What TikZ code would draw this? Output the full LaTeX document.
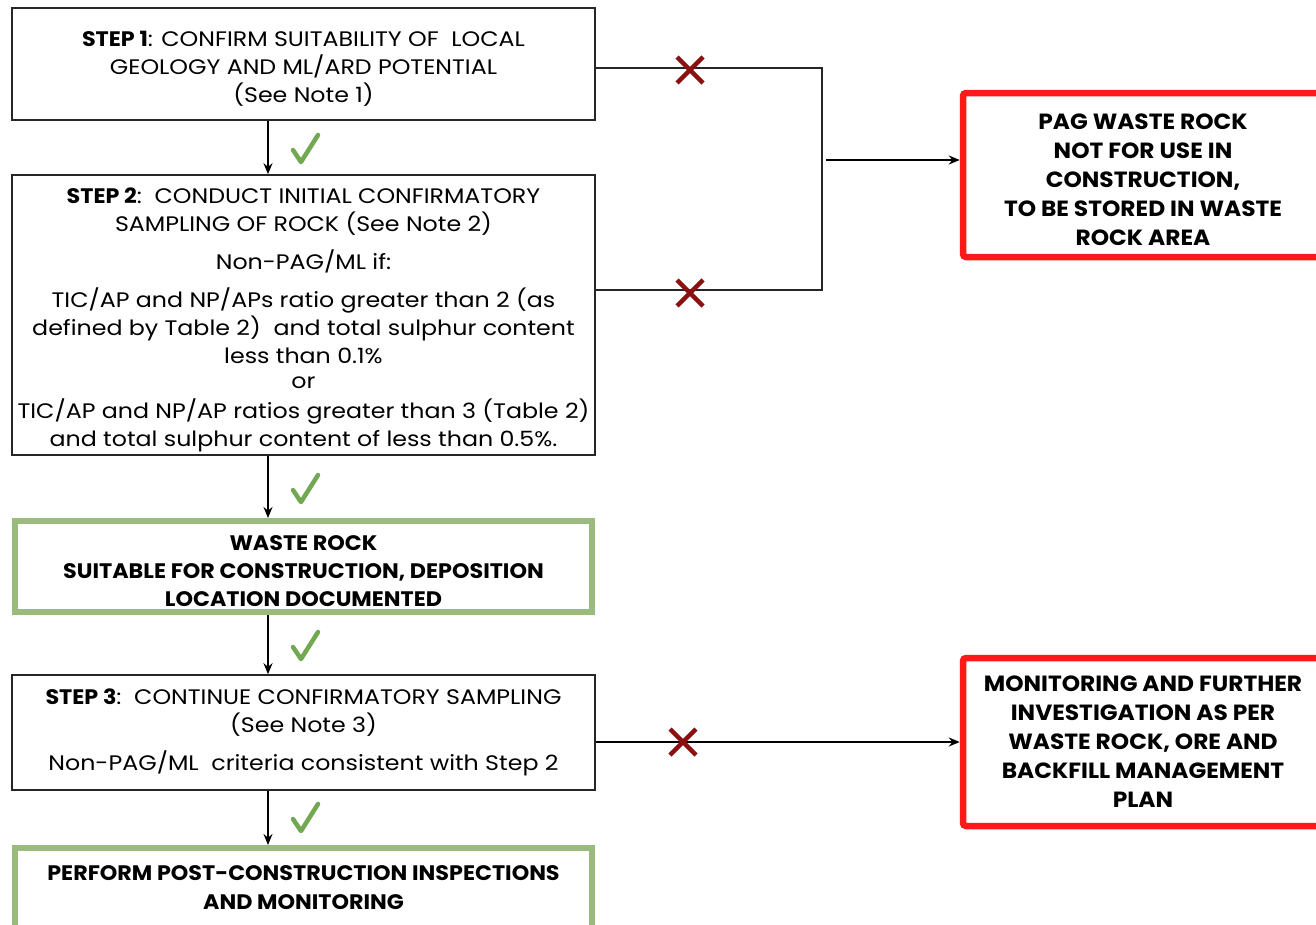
\documentclass[tikz,border=0pt]{standalone}
\usepackage{fontspec}
\setmainfont{Poppins}[FakeStretch=1.13, BoldFeatures={FakeStretch=1.06}]
\usetikzlibrary{arrows.meta}
\definecolor{gbox}{HTML}{9BBB7E}
\definecolor{rbox}{HTML}{FF1A1A}
\definecolor{chk}{HTML}{72A852}
\definecolor{xred}{HTML}{8B1010}
\tikzset{
  plainbox/.style={draw=black!85, line width=1.6pt, minimum width=583pt, align=center, inner sep=0pt, font=\fontsize{21}{28}\selectfont},
  greenbox/.style={draw=gbox, line width=6pt, minimum width=577pt, align=center, inner sep=0pt, font=\bfseries\fontsize{21}{28}\selectfont},
  redbox/.style={draw=rbox, line width=6.5pt, rounded corners=3pt, align=center, inner sep=0pt, font=\bfseries\fontsize{22}{29}\selectfont},
  conn/.style={line width=1.3pt, draw=black!85},
  flow/.style={line width=2pt, -{Stealth[length=11pt,width=9pt]}},
  chkmark/.pic={\draw[draw=chk, line width=4.5pt, line cap=round, line join=round] (-13,1) -- (-5,13) -- (12,-14);},
  xmark/.style={draw=xred, line width=4.5pt}
}
\begin{document}
\begin{tikzpicture}[x=1pt,y=-1pt]
\useasboundingbox (0,0) rectangle (1316,924);
\clip (0,0) rectangle (1316,924);
% main column
\node[plainbox, minimum height=112pt] (s1) at (303.5,64) {\rule{0pt}{24pt}\textbf{STEP 1}: CONFIRM SUITABILITY OF\ \ LOCAL\\GEOLOGY AND ML/ARD POTENTIAL\\(See Note 1)};
\node[plainbox, minimum height=280pt] (s2) at (303.5,315) {\rule{0pt}{25pt}\textbf{STEP 2}:\ \ CONDUCT INITIAL CONFIRMATORY\\SAMPLING OF ROCK (See Note 2)\\[10pt]Non-PAG/ML if:\\[10pt]TIC/AP and NP/APs ratio greater than 2 (as\\defined by Table 2)\ \ and total sulphur content\\less than 0.1\%\\[-3pt]or\\[2pt]TIC/AP and NP/AP ratios greater than 3 (Table 2)\\and total sulphur content of less than 0.5\%.};
\node[greenbox, minimum height=91pt] (wr) at (303.5,566.5) {\rule{0pt}{24pt}WASTE ROCK\\SUITABLE FOR CONSTRUCTION, DEPOSITION\\LOCATION DOCUMENTED};
\node[plainbox, minimum height=115pt] (s3) at (303.5,732.5) {\textbf{STEP 3}:\ \ CONTINUE CONFIRMATORY SAMPLING\\(See Note 3)\\[10pt]Non-PAG/ML\ \ criteria consistent with Step 2};
\node[greenbox, minimum height=86pt] (pc) at (303.5,891) {};
\node[font=\bfseries\fontsize{21}{29}\selectfont, align=center] (pct) at (303.5,888) {PERFORM POST-CONSTRUCTION INSPECTIONS\\AND MONITORING};
% right boxes
\node[redbox, minimum width=360pt, minimum height=164pt] (pag) at (1143,175) {\rule{0pt}{26pt}PAG WASTE ROCK\\NOT FOR USE IN\\CONSTRUCTION,\\TO BE STORED IN WASTE\\ROCK AREA};
\node[redbox, minimum width=360pt, minimum height=168pt] (mon) at (1143,742) {MONITORING AND FURTHER\\INVESTIGATION AS PER\\WASTE ROCK, ORE AND\\BACKFILL MANAGEMENT\\PLAN};
% vertical flow arrows
\coordinate (a1) at (268,0);
\draw[flow] (s1.south -| a1) -- (s2.north -| a1);
\draw[flow] (s2.south -| a1) -- (wr.north -| a1);
\draw[flow] (wr.south -| a1) -- (s3.north -| a1);
\draw[flow] (s3.south -| a1) -- (pc.north -| a1);
\pic at (306,149) {chkmark};
\pic at (306,489) {chkmark};
\pic at (306,646) {chkmark};
\pic at (306,818) {chkmark};
% reject connectors
\coordinate (jt) at (822,68);
\coordinate (jb) at (822,290);
\coordinate (jm) at (826,160);
\draw[conn] (s1.east |- jt) -- (jt) -- (jb) -- (s2.east |- jb);
\draw[flow] (jm) -- (pag.west |- jm);
\coordinate (m3) at (0,742);
\draw[flow] (s3.east |- m3) -- (mon.west |- m3);
% red crosses
\foreach \n/\cx/\cy/\r in {x1/690/70/13, x2/690/293/13, x3/683/742/13}{
  \coordinate (\n) at (\cx,\cy);
  \draw[xmark] ([shift={(-\r,-\r)}]\n) -- ([shift={(\r,\r)}]\n);
  \draw[xmark] ([shift={(-\r,\r)}]\n) -- ([shift={(\r,-\r)}]\n);
}
\end{tikzpicture}
\end{document}
